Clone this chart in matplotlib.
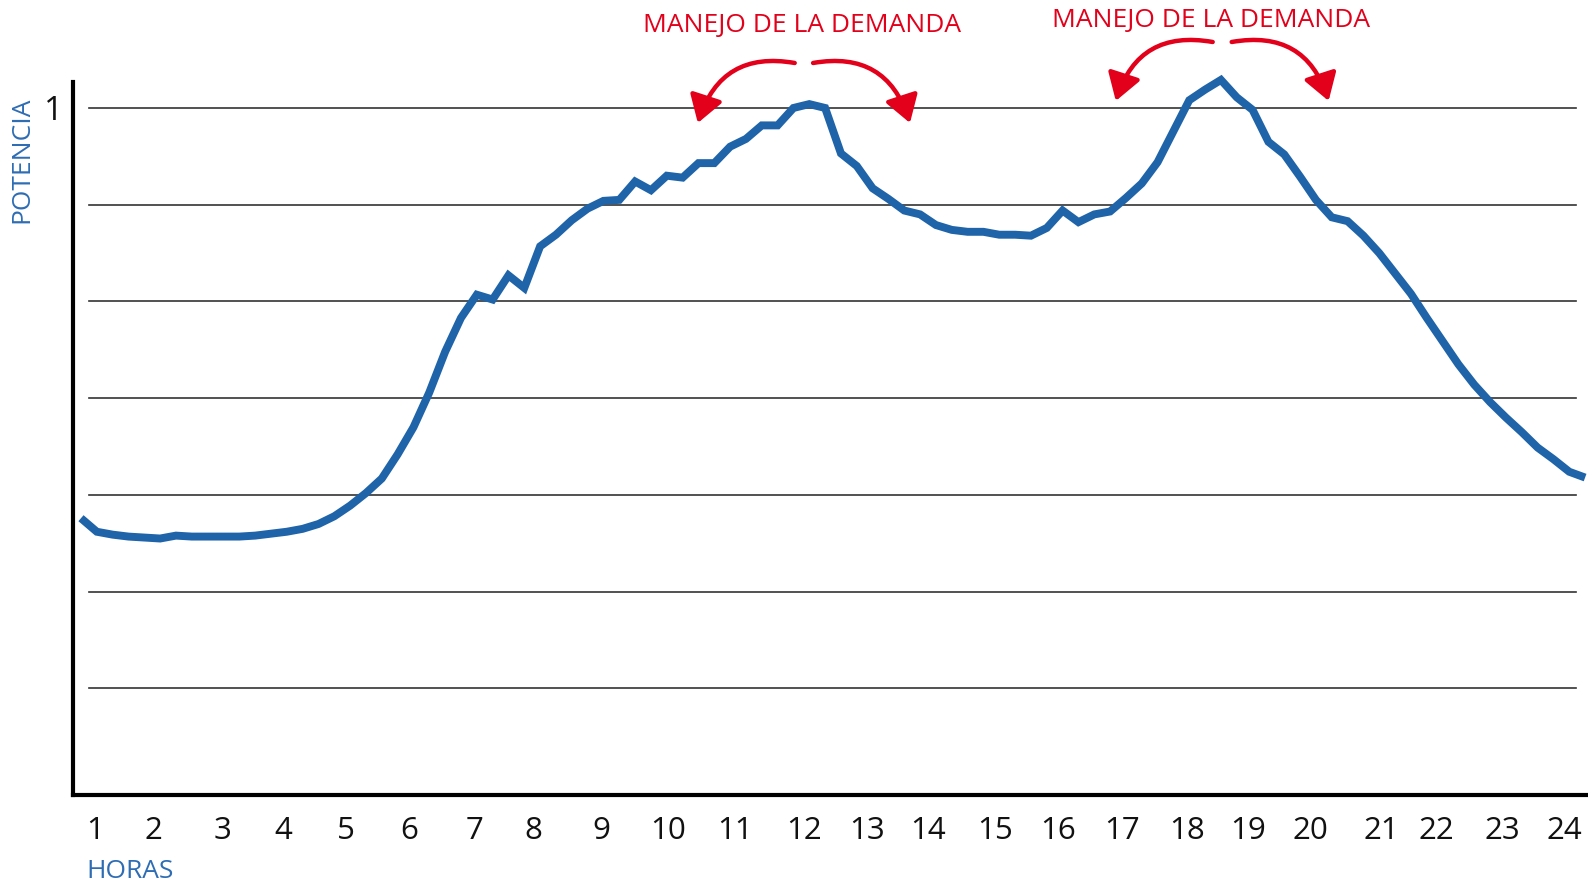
import numpy as np
import matplotlib
matplotlib.use("Agg")
import matplotlib.pyplot as plt
from matplotlib.patches import FancyArrowPatch

plt.rcParams['font.family'] = ['Open Sans', 'DejaVu Sans']

# ---- data: normalised power demand, 15-minute steps over the day ----
hours = np.arange(96) / 4.0
power = [0.576, 0.562, 0.559, 0.557, 0.556, 0.555, 0.558, 0.557, 0.557, 0.557,
         0.557, 0.558, 0.560, 0.562, 0.565, 0.570, 0.578, 0.589, 0.602, 0.617,
         0.642, 0.670, 0.706, 0.748, 0.783, 0.807, 0.802, 0.827, 0.814, 0.857,
         0.869, 0.884, 0.896, 0.904, 0.905, 0.924, 0.915, 0.930, 0.928, 0.943,
         0.943, 0.960, 0.968, 0.982, 0.982, 1.000, 1.004, 1.000, 0.953, 0.940,
         0.917, 0.906, 0.894, 0.890, 0.879, 0.874, 0.872, 0.872, 0.869, 0.869,
         0.868, 0.876, 0.894, 0.882, 0.890, 0.893, 0.907, 0.922, 0.944, 0.976,
         1.008, 1.019, 1.029, 1.011, 0.998, 0.965, 0.952, 0.929, 0.905, 0.887,
         0.883, 0.868, 0.850, 0.829, 0.808, 0.783, 0.759, 0.735, 0.714, 0.696,
         0.680, 0.665, 0.649, 0.637, 0.624, 0.618]

hour_labels = [str(h) for h in range(1, 25)]
hour_label_pos = [0.22, 1.15, 2.24, 3.19, 4.18, 5.18, 6.22, 7.14, 8.21, 9.27,
                  10.33, 11.42, 12.41, 13.37, 14.43, 15.43, 16.44, 17.46, 18.43,
                  19.42, 20.53, 21.40, 22.44, 23.43]
grid_levels = [1.0, 0.9, 0.8, 0.7, 0.6, 0.5, 0.4]
annotation_text = "MANEJO DE LA DEMANDA"

BLUE = "#1F63A8"
LABEL_BLUE = "#2E6DB4"
RED = "#E2001A"

W, H = 1588, 882
fig = plt.figure(figsize=(W / 100, H / 100), dpi=100)
ax = fig.add_axes([73 / W, (H - 795) / H, (W - 73) / W, 795 / H])
ax.set_xlim(-0.126, 23.796)
ax.set_ylim(0.2899, 1.1116)

# gridlines
for g in grid_levels:
    ax.axhline(g, xmin=0.0106, xmax=0.992, color="#333333", lw=1.2, zorder=1)

# curve
ax.plot(hours, power, color=BLUE, lw=5.7, solid_joinstyle="miter",
        solid_capstyle="butt", zorder=3, clip_on=False)

# spines
for s in ["top", "right"]:
    ax.spines[s].set_visible(False)
ax.spines["left"].set_linewidth(3.0)
ax.spines["bottom"].set_linewidth(3.0)
ax.spines["left"].set_bounds(0.2899, 1.0269)

# ticks
ax.set_xticks(hour_label_pos, hour_labels)
ax.tick_params(axis="x", length=0, pad=15, labelsize=22.5, labelcolor="#111111")
ax.set_yticks([1.0], ["1"])
ax.tick_params(axis="y", length=0, pad=7, labelsize=24, labelcolor="#111111")

# axis labels
fig.text(22 / W, 1 - 160 / H, "POTENCIA", rotation=90, color=LABEL_BLUE,
         fontsize=19, ha="center", va="center")
fig.text(130 / W, 1 - 871 / H, "HORAS", color=LABEL_BLUE,
         fontsize=19, ha="center", va="center")

# annotations
ax.text(11.385, 1.0850, annotation_text, color=RED, fontsize=19,
        ha="center", va="center")
ax.text(17.84, 1.0905, annotation_text, color=RED, fontsize=19,
        ha="center", va="center")

arrow_specs = [
    ((11.27, 1.0465), (9.74, 0.9845), 170, 72),
    ((11.56, 1.0465), (13.09, 0.9845), 10, 108),
    ((17.87, 1.0682), (16.34, 1.0073), 170, 72),
    ((18.17, 1.0682), (19.70, 1.0073), 10, 108),
]
for start, end, a_start, a_end in arrow_specs:
    arr = FancyArrowPatch(start, end,
                          connectionstyle=f"angle3,angleA={a_start},angleB={a_end}",
                          arrowstyle="-|>,head_length=0.95,head_width=0.6",
                          mutation_scale=17, color=RED, lw=3.2,
                          shrinkA=0, shrinkB=0, clip_on=False, zorder=4)
    ax.add_patch(arr)

fig.savefig("out.png", dpi=100)
